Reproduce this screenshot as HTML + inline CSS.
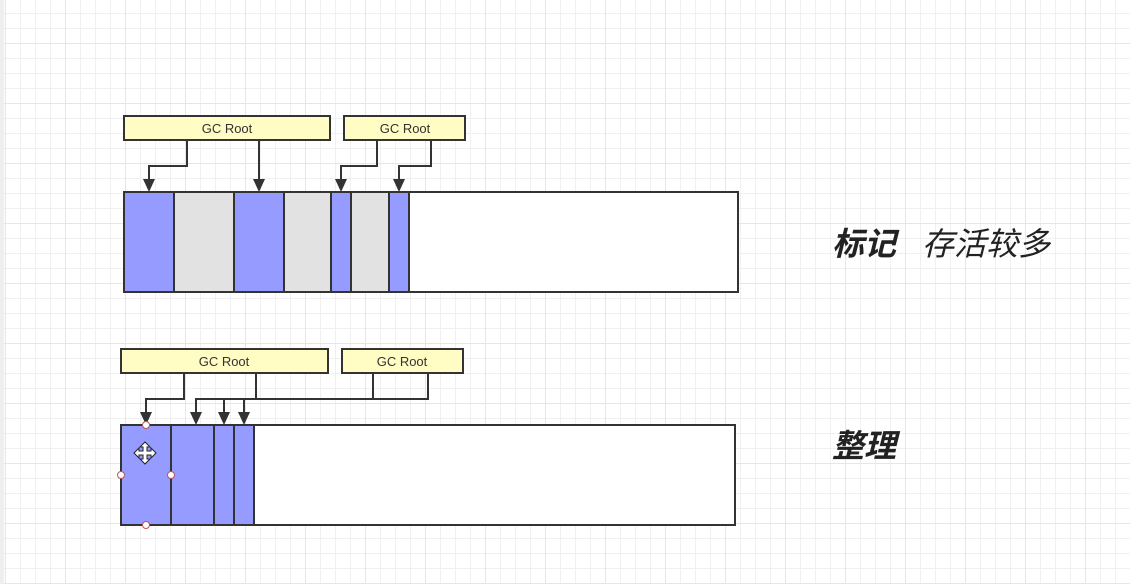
<!DOCTYPE html>
<html><head><meta charset="utf-8"><style>
html,body{margin:0;padding:0;width:1130px;height:584px;overflow:hidden;background:#fff}
body{position:relative;
background-image:
linear-gradient(#e6e6e6 1px,transparent 1px),
linear-gradient(90deg,#e6e6e6 1px,transparent 1px),
linear-gradient(#f0f0f0 1px,transparent 1px),
linear-gradient(90deg,#f0f0f0 1px,transparent 1px);
background-size:60px 60px,60px 60px,15px 15px,15px 15px;
background-position:0 43px,5px 0,0 13px,5px 0;}
.strip{position:absolute;left:0;top:0;width:4px;height:584px;background:#eee}
.t{position:absolute;font-family:"Liberation Sans","Noto Sans CJK SC",sans-serif;font-size:32px;font-style:italic;color:#222;line-height:1}
</style></head><body>
<div class="strip"></div>
<svg width="1130" height="584" style="position:absolute;left:0;top:0" font-family="Liberation Sans, sans-serif">
<g stroke="#333" stroke-width="2">
<rect x="124" y="192" width="614" height="100" fill="#fff"/>
<rect x="124" y="192" width="50" height="100" fill="#969cff"/>
<rect x="174" y="192" width="60" height="100" fill="#e2e2e2"/>
<rect x="234" y="192" width="50" height="100" fill="#969cff"/>
<rect x="284" y="192" width="47" height="100" fill="#e2e2e2"/>
<rect x="331" y="192" width="20" height="100" fill="#969cff"/>
<rect x="351" y="192" width="38" height="100" fill="#e2e2e2"/>
<rect x="389" y="192" width="20" height="100" fill="#969cff"/>
<rect x="124" y="116" width="206" height="24" fill="#fffcc4"/>
<rect x="344" y="116" width="121" height="24" fill="#fffcc4"/>
<g fill="none">
<polyline points="187,140 187,166 149,166 149,180"/>
<polyline points="259,140 259,180"/>
<polyline points="377,140 377,166 341,166 341,180"/>
<polyline points="431,140 431,166 399,166 399,180"/>
</g>
<rect x="121" y="425" width="614" height="100" fill="#fff"/>
<rect x="121" y="425" width="50" height="100" fill="#969cff"/>
<rect x="171" y="425" width="43" height="100" fill="#969cff"/>
<rect x="214" y="425" width="20" height="100" fill="#969cff"/>
<rect x="234" y="425" width="20" height="100" fill="#969cff"/>
<rect x="121" y="349" width="207" height="24" fill="#fffcc4"/>
<rect x="342" y="349" width="121" height="24" fill="#fffcc4"/>
<g fill="none">
<polyline points="184,373 184,399 146,399 146,413"/>
<polyline points="256,373 256,399"/>
<polyline points="428,373 428,399 196,399 196,413"/>
<line x1="373" y1="373" x2="373" y2="399"/>
<line x1="224" y1="399" x2="224" y2="413"/>
<line x1="244" y1="399" x2="244" y2="413"/>
</g>
</g>
<g fill="#333">
<path d="M143,179 L155,179 L149,192 Z"/>
<path d="M253,179 L265,179 L259,192 Z"/>
<path d="M335,179 L347,179 L341,192 Z"/>
<path d="M393,179 L405,179 L399,192 Z"/>
<path d="M140,412 L152,412 L146,425 Z"/>
<path d="M190,412 L202,412 L196,425 Z"/>
<path d="M218,412 L230,412 L224,425 Z"/>
<path d="M238,412 L250,412 L244,425 Z"/>
</g>
<g font-size="13" fill="#333" text-anchor="middle">
<text x="227" y="133">GC Root</text>
<text x="405" y="133">GC Root</text>
<text x="224" y="366">GC Root</text>
<text x="402" y="366">GC Root</text>
</g>
<g fill="#fff" stroke="#b55" stroke-width="1">
<circle cx="146" cy="425" r="3.5"/><circle cx="146" cy="525" r="3.5"/>
<circle cx="121" cy="475" r="3.5"/><circle cx="171" cy="475" r="3.5"/>
</g>
<g stroke="#222" stroke-width="1" fill="#fff">
<path d="M145,442 L150,447 L147,447 L147,451 L151,451 L151,448 L156,453 L151,458 L151,455 L147,455 L147,459 L150,459 L145,464 L140,459 L143,459 L143,455 L139,455 L139,458 L134,453 L139,448 L139,451 L143,451 L143,447 L140,447 Z"/>
</g>
</svg>
<div class="t" style="left:832px;top:228px;font-weight:bold">标记</div>
<div class="t" style="left:922px;top:228px">存活较多</div>
<div class="t" style="left:832px;top:430px;font-weight:bold">整理</div>
</body></html>
